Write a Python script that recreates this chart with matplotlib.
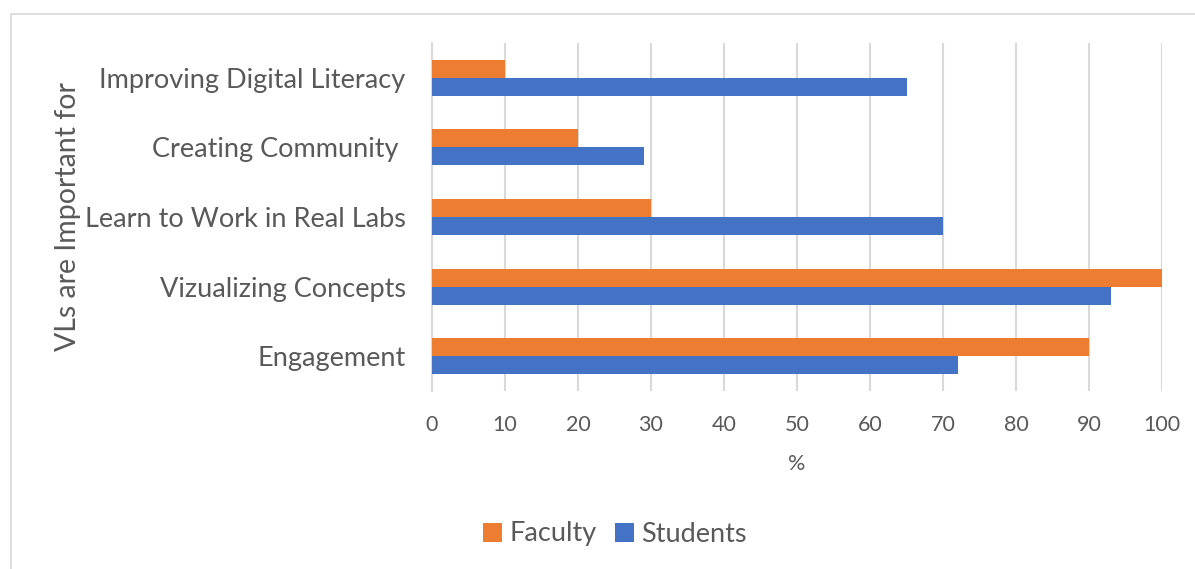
import numpy as np
import matplotlib.pyplot as plt
from matplotlib.patches import Rectangle

categories = ["Engagement", "Vizualizing Concepts", "Learn to Work in Real Labs",
              "Creating Community ", "Improving Digital Literacy"]
faculty = [90, 100, 30, 20, 10]
students = [72, 93, 70, 29, 65]
xticks = [0, 10, 20, 30, 40, 50, 60, 70, 80, 90, 100]

text_col = "#595959"
grid_col = "#d9d9d9"
plt.rcParams['font.family'] = ['Lato', 'DejaVu Sans']

fig = plt.figure(figsize=(11.95, 5.69), dpi=100)
W, H = 1195, 569
ax = fig.add_axes([432 / W, 1 - 391 / H, (1162 - 432) / W, (391 - 43) / H])

# chart frame (light border)
fig.patches.append(Rectangle((11 / W, -0.1), 1.2, 1 - 14 / H + 0.1, transform=fig.transFigure,
                             fill=False, edgecolor="#d9d9d9", linewidth=1.2))

y = np.arange(len(categories))
h = 0.26
ax.barh(y - h / 2, students, height=h, color="#4472C4", label="Students", zorder=3)
ax.barh(y + h / 2, faculty, height=h, color="#ED7D31", label="Faculty", zorder=3)

ax.set_xlim(0, 100)
ax.set_ylim(-0.5, len(categories) - 0.5)
ax.set_xticks(xticks)
ax.set_yticks(y)
ax.set_yticklabels(categories)
ax.grid(axis="x", color=grid_col, linewidth=1.5, zorder=0)
for s in ["top", "right", "bottom"]:
    ax.spines[s].set_visible(False)
ax.spines["left"].set_color(grid_col)
ax.spines["left"].set_linewidth(1.5)
ax.tick_params(axis="both", length=0, colors=text_col)
ax.tick_params(axis="y", labelsize=19.5, pad=19)
ax.tick_params(axis="x", labelsize=15.5, pad=17)

ax.set_xlabel("%", fontsize=15.5, color=text_col, labelpad=14)
ax.set_ylabel("VLs are Important for", fontsize=20.5, color=text_col, labelpad=3)

handles, labels = ax.get_legend_handles_labels()
fig.legend(handles[::-1], labels[::-1], loc="center", bbox_to_anchor=(615 / W, 1 - 534 / H),
           ncol=2, frameon=False, fontsize=19.5, labelcolor=text_col,
           handlelength=0.7, handleheight=0.7, handletextpad=0.25, columnspacing=0.7)

fig.savefig("out.png", dpi=100)
